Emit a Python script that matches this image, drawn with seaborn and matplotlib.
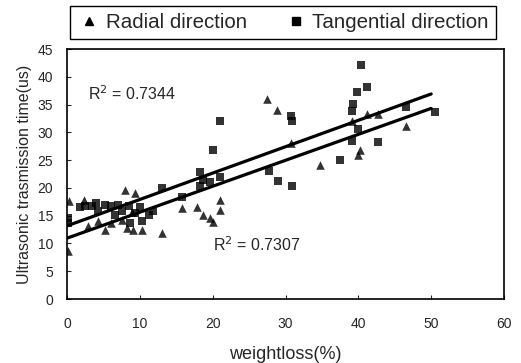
import numpy as np
import pandas as pd
import matplotlib
matplotlib.use("Agg")
import matplotlib.pyplot as plt
import seaborn as sns

# === values ===
radial_weightloss = [0.1, 0.3, 2.4, 2.9, 4.3, 5.2, 6.1, 7.5, 8.2, 9.1, 10.3, 8.0, 9.3, 8.9,
                     13.0, 15.8, 17.8, 18.7, 19.6, 20.1, 21.0, 21.0, 27.5, 28.9, 30.7, 34.8,
                     39.1, 41.2, 42.7, 40.2, 40.0, 46.6]
radial_time = [8.6, 17.6, 17.8, 13.1, 14.0, 12.5, 13.7, 14.3, 12.8, 12.5, 12.5, 19.7, 19.1, 15.6,
               11.9, 16.3, 16.5, 15.2, 14.6, 13.9, 17.9, 16.1, 36.0, 34.1, 28.0, 24.2,
               32.1, 33.3, 33.3, 26.9, 26.0, 31.2]

tangential_weightloss = [0.1, 0.1, 2.5, 3.4, 5.2, 6.1, 7.5, 9.3, 11.2, 10.3, 8.7, 6.6, 4.3,
                         1.8, 4.0, 7.0, 8.5, 10.0, 11.8,
                         13.0, 15.8, 18.3, 18.7, 19.6, 18.3, 20.0, 21.0, 21.0, 27.7, 29.0, 30.9,
                         30.7, 30.9, 37.5, 39.1, 40.0, 42.7, 39.1, 39.3, 39.8, 41.2, 40.4,
                         46.6, 50.5]
tangential_time = [14.6, 13.7, 16.7, 16.7, 17.0, 16.7, 15.8, 15.5, 15.2, 14.0, 13.7, 15.2, 15.8,
                   16.5, 17.2, 17.0, 16.8, 16.5, 15.8,
                   20.0, 18.3, 22.8, 21.5, 21.0, 20.3, 26.8, 32.1, 22.0, 23.0, 21.2, 20.3,
                   33.0, 32.1, 25.1, 28.4, 30.6, 28.2, 33.9, 35.1, 37.2, 38.1, 42.2,
                   34.5, 33.6]

r2_labels = ["R$^2$ = 0.7344", "R$^2$ = 0.7307"]

radial = pd.DataFrame({"weightloss": radial_weightloss, "time": radial_time})
tangential = pd.DataFrame({"weightloss": tangential_weightloss, "time": tangential_time})

sns.set_style("ticks")
plt.rcParams["font.family"] = ["Liberation Sans", "DejaVu Sans"]

fig = plt.figure(figsize=(5.21, 3.63), dpi=100)
ax = fig.add_axes([0.1286, 0.1763, 0.8388, 0.6887])

# trend lines run over 0-50 like the excel trendlines
ax.set_xlim(0, 50)
# radial direction: triangles + fit line
sns.regplot(data=radial, x="weightloss", y="time", ax=ax, ci=None, marker="^", truncate=False,
            scatter_kws={"s": 38, "color": "black", "linewidths": 0},
            line_kws={"color": "black", "linewidth": 2.3})
# tangential direction: squares + fit line
sns.regplot(data=tangential, x="weightloss", y="time", ax=ax, ci=None, marker="s", truncate=False,
            scatter_kws={"s": 34, "color": "black", "linewidths": 0},
            line_kws={"color": "black", "linewidth": 2.3})

ax.set_xlim(0, 60)
ax.set_ylim(0, 45)
ax.set_xticks(range(0, 61, 10))
ax.set_yticks(range(0, 46, 5))
ax.tick_params(direction="in", length=3, width=0.8, labelsize=10)
ax.tick_params(axis="x", pad=13)
ax.tick_params(axis="y", pad=10)
for s in ax.spines.values():
    s.set_linewidth(1.2)
    s.set_color("black")
ax.set_xlabel("weightloss(%)", fontsize=13, labelpad=11)
ax.set_ylabel("Ultrasonic trasmission time(us)", fontsize=11.5, labelpad=4)

ax.text(2.9, 36.9, r2_labels[0], fontsize=11.5, va="center")
ax.text(20.0, 9.8, r2_labels[1], fontsize=11.5, va="center")

# legend box above the plot
handles = [plt.Line2D([], [], marker="^", color="black", linestyle="none", markersize=6),
           plt.Line2D([], [], marker="s", color="black", linestyle="none", markersize=5.5)]
leg = fig.legend(handles, ["Radial direction", "Tangential direction"], loc="upper left",
                 bbox_to_anchor=(0.1344, 0.9835), ncol=2,
                 fancybox=False, framealpha=1, edgecolor="black", fontsize=14.8,
                 handletextpad=0.2, borderaxespad=0, handlelength=1.2, columnspacing=1.8,
                 borderpad=0.33)
leg.get_frame().set_linewidth(1.0)

fig.savefig("out.png", dpi=100)
